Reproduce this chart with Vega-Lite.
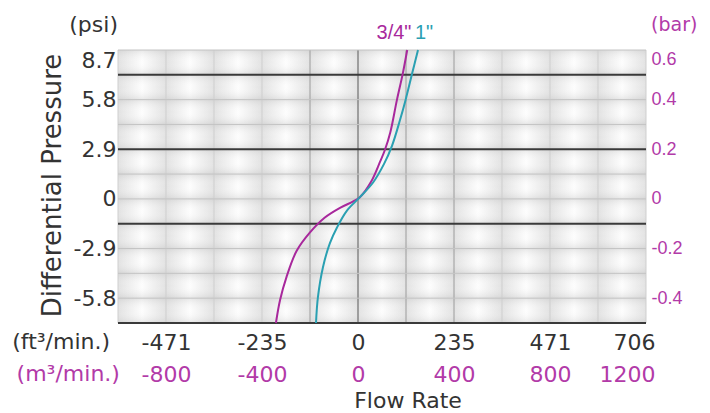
{
  "$schema": "https://vega.github.io/schema/vega-lite/v6.json",
  "autosize": "none",
  "width": 528,
  "height": 273,
  "padding": {"left": 118, "top": 50, "right": 64, "bottom": 90},
  "background": "white",
  "config": {"view": {"stroke": null}},
  "resolve": {"axis": {"x": "independent", "y": "independent"}},
  "layer": [
    {
      "data": {"values": [
        {"c0": -1000, "c1": -800}, {"c0": -800, "c1": -600}, {"c0": -600, "c1": -400},
        {"c0": -400, "c1": -200}, {"c0": -200, "c1": 0}, {"c0": 0, "c1": 200},
        {"c0": 200, "c1": 400}, {"c0": 400, "c1": 600}, {"c0": 600, "c1": 800},
        {"c0": 800, "c1": 1000}, {"c0": 1000, "c1": 1200}
      ]},
      "mark": {"type": "rect", "color": {"gradient": "linear", "x1": 0, "y1": 0, "x2": 1, "y2": 0,
        "stops": [{"offset": 0, "color": "#e2e2e2"}, {"offset": 0.5, "color": "#fdfdfd"}, {"offset": 1, "color": "#e2e2e2"}]}},
      "encoding": {
        "x": {"field": "c0", "type": "quantitative", "scale": {"domain": [-1000, 1200], "nice": false, "zero": false}, "axis": null},
        "x2": {"field": "c1"}
      }
    },
    {
      "data": {"values": [
        {"r0": -0.5, "r1": -0.4}, {"r0": -0.4, "r1": -0.3}, {"r0": -0.3, "r1": -0.2},
        {"r0": -0.2, "r1": -0.1}, {"r0": -0.1, "r1": 0}, {"r0": 0, "r1": 0.1},
        {"r0": 0.1, "r1": 0.2}, {"r0": 0.2, "r1": 0.3}, {"r0": 0.3, "r1": 0.4},
        {"r0": 0.4, "r1": 0.5}, {"r0": 0.5, "r1": 0.6}
      ]},
      "mark": {"type": "rect", "color": {"gradient": "linear", "x1": 0, "y1": 0, "x2": 0, "y2": 1,
        "stops": [{"offset": 0, "color": "rgba(185,185,185,0.32)"}, {"offset": 0.5, "color": "rgba(255,255,255,0)"}, {"offset": 1, "color": "rgba(185,185,185,0.32)"}]}},
      "encoding": {
        "y": {"field": "r0", "type": "quantitative", "scale": {"domain": [-0.5, 0.6], "nice": false, "zero": false}, "axis": null},
        "y2": {"field": "r1"}
      }
    },
    {
      "data": {"values": [{"x": -1000}, {"x": -800}, {"x": -600}, {"x": -400}, {"x": 600}, {"x": 800}, {"x": 1000}, {"x": 1200}]},
      "mark": {"type": "rule", "color": "#cfcfcf", "strokeWidth": 1},
      "encoding": {"x": {"field": "x", "type": "quantitative", "scale": {"domain": [-1000, 1200], "nice": false, "zero": false}, "axis": null}}
    },
    {
      "data": {"values": [{"x": -200}, {"x": 200}, {"x": 400}]},
      "mark": {"type": "rule", "color": "#9c9c9c", "strokeWidth": 1},
      "encoding": {"x": {"field": "x", "type": "quantitative", "scale": {"domain": [-1000, 1200], "nice": false, "zero": false}, "axis": null}}
    },
    {
      "data": {"values": [{"x": 0}]},
      "mark": {"type": "rule", "color": "#707070", "strokeWidth": 1.2},
      "encoding": {"x": {"field": "x", "type": "quantitative", "scale": {"domain": [-1000, 1200], "nice": false, "zero": false}, "axis": null}}
    },
    {
      "data": {"values": [{"y": -0.4}, {"y": -0.3}, {"y": -0.2}, {"y": 0}, {"y": 0.1}, {"y": 0.3}, {"y": 0.4}, {"y": 0.6}]},
      "mark": {"type": "rule", "color": "#c4c4c4", "strokeWidth": 1},
      "encoding": {"y": {"field": "y", "type": "quantitative", "scale": {"domain": [-0.5, 0.6], "nice": false, "zero": false}, "axis": null}}
    },
    {
      "data": {"values": [{"y": 0.5}, {"y": 0.2}, {"y": -0.1}, {"y": -0.5}]},
      "mark": {"type": "rule", "color": "#3a3a3a", "strokeWidth": 2},
      "encoding": {"y": {"field": "y", "type": "quantitative", "scale": {"domain": [-0.5, 0.6], "nice": false, "zero": false}, "axis": null}}
    },
    {
      "data": {"values": [
        {"series": "3/4\"", "flow": -342, "bar": -0.5},
        {"series": "3/4\"", "flow": -325, "bar": -0.408},
        {"series": "3/4\"", "flow": -298, "bar": -0.315},
        {"series": "3/4\"", "flow": -256, "bar": -0.21},
        {"series": "3/4\"", "flow": -200, "bar": -0.135},
        {"series": "3/4\"", "flow": -138, "bar": -0.075},
        {"series": "3/4\"", "flow": -75, "bar": -0.036},
        {"series": "3/4\"", "flow": -20, "bar": -0.01},
        {"series": "3/4\"", "flow": 8, "bar": 0.007},
        {"series": "3/4\"", "flow": 55, "bar": 0.07},
        {"series": "3/4\"", "flow": 92, "bar": 0.15},
        {"series": "3/4\"", "flow": 112, "bar": 0.197},
        {"series": "3/4\"", "flow": 135, "bar": 0.27},
        {"series": "3/4\"", "flow": 162, "bar": 0.398},
        {"series": "3/4\"", "flow": 187, "bar": 0.507},
        {"series": "3/4\"", "flow": 205, "bar": 0.6},
        {"series": "1\"", "flow": -175, "bar": -0.5},
        {"series": "1\"", "flow": -167, "bar": -0.396},
        {"series": "1\"", "flow": -146, "bar": -0.275},
        {"series": "1\"", "flow": -117, "bar": -0.178},
        {"series": "1\"", "flow": -88, "bar": -0.116},
        {"series": "1\"", "flow": -46, "bar": -0.047},
        {"series": "1\"", "flow": 8, "bar": 0.007},
        {"series": "1\"", "flow": 62, "bar": 0.065},
        {"series": "1\"", "flow": 108, "bar": 0.14},
        {"series": "1\"", "flow": 142, "bar": 0.215},
        {"series": "1\"", "flow": 175, "bar": 0.318},
        {"series": "1\"", "flow": 198, "bar": 0.398},
        {"series": "1\"", "flow": 226, "bar": 0.507},
        {"series": "1\"", "flow": 250, "bar": 0.6}
      ]},
      "mark": {"type": "line", "strokeWidth": 2, "interpolate": "catmull-rom"},
      "encoding": {
        "x": {"field": "flow", "type": "quantitative", "scale": {"domain": [-1000, 1200], "nice": false, "zero": false},
          "axis": {"orient": "bottom", "values": [-800, -400, 0, 400, 800, 1200],
            "labelExpr": "'' + round(datum.value * 0.58857)",
            "domain": false, "grid": false, "ticks": false, "tickSize": 0, "labelPadding": 9.5,
            "labelFlush": true, "labelFlushOffset": 9, "labelOverlap": false,
            "labelFont": "DejaVu Sans", "labelFontSize": 22, "labelColor": "#333333", "title": null}},
        "y": {"field": "bar", "type": "quantitative", "scale": {"domain": [-0.5, 0.6], "nice": false, "zero": false},
          "axis": {"orient": "left", "values": [-0.4, -0.2, 0, 0.2, 0.4, 0.6],
            "labelExpr": "datum.value == 0 ? '0' : '' + round(datum.value * 145) / 10",
            "domain": false, "grid": false, "ticks": false, "tickSize": 0, "labelPadding": 2,
            "labelFlush": true, "labelOverlap": false,
            "labelFont": "DejaVu Sans", "labelFontSize": 22, "labelColor": "#333333",
            "title": "Differential Pressure", "titleFont": "DejaVu Sans", "titleFontSize": 26,
            "titleFontWeight": "normal", "titleColor": "#333333", "titleAngle": 270,
            "titleX": -58, "titleY": 135, "titleAlign": "center", "titleBaseline": "alphabetic"}},
        "color": {"field": "series", "type": "nominal",
          "scale": {"domain": ["3/4\"", "1\""], "range": ["#a8289c", "#2aa0b2"]}, "legend": null},
        "order": {"field": "flow", "type": "quantitative"}
      }
    },
    {
      "data": {"values": [
        {"series": "3/4\"", "flow": 150, "bar": 0.669},
        {"series": "1\"", "flow": 275, "bar": 0.669}
      ]},
      "mark": {"type": "text", "font": "Liberation Sans", "fontSize": 20, "align": "center", "baseline": "middle"},
      "encoding": {
        "x": {"field": "flow", "type": "quantitative", "scale": {"domain": [-1000, 1200], "nice": false, "zero": false},
          "axis": {"orient": "bottom", "offset": 33, "values": [-800, -400, 0, 400, 800, 1200],
            "labelExpr": "'' + datum.value",
            "domain": false, "grid": false, "ticks": false, "tickSize": 0, "labelPadding": 8,
            "labelFlush": true, "labelFlushOffset": 9, "labelOverlap": false,
            "labelFont": "DejaVu Sans", "labelFontSize": 22, "labelColor": "#b23aa8",
            "title": "Flow Rate", "titleFont": "DejaVu Sans", "titleFontSize": 22, "titleFontWeight": "normal",
            "titleColor": "#333333", "titleX": 289.5, "titleY": 51, "titleAlign": "center", "titleBaseline": "alphabetic"}},
        "y": {"field": "bar", "type": "quantitative", "scale": {"domain": [-0.5, 0.6], "nice": false, "zero": false},
          "axis": {"orient": "right", "values": [-0.4, -0.2, 0, 0.2, 0.4, 0.6],
            "labelExpr": "'' + round(datum.value * 10) / 10",
            "domain": false, "grid": false, "ticks": false, "tickSize": 0, "labelPadding": 5,
            "labelFlush": true, "labelOverlap": false,
            "labelFont": "Liberation Sans", "labelFontSize": 18, "labelColor": "#b23aa8", "title": null}},
        "text": {"field": "series"},
        "color": {"field": "series", "type": "nominal",
          "scale": {"domain": ["3/4\"", "1\""], "range": ["#a8289c", "#2aa0b2"]}, "legend": null}
      }
    },
    {
      "data": {"values": [
        {"label": "(psi)", "flow": -1000, "bar": 0.7},
        {"label": "(ft³/min.)", "flow": -1033, "bar": -0.577}
      ]},
      "mark": {"type": "text", "font": "DejaVu Sans", "fontSize": 22, "align": "right", "baseline": "middle", "color": "#333333"},
      "encoding": {
        "x": {"field": "flow", "type": "quantitative", "scale": {"domain": [-1000, 1200], "nice": false, "zero": false}, "axis": null},
        "y": {"field": "bar", "type": "quantitative", "scale": {"domain": [-0.5, 0.6], "nice": false, "zero": false}, "axis": null},
        "text": {"field": "label"}
      }
    },
    {
      "data": {"values": [
        {"label": "(m³/min.)", "flow": -992, "bar": -0.704}
      ]},
      "mark": {"type": "text", "font": "DejaVu Sans", "fontSize": 22, "align": "right", "baseline": "middle", "color": "#b23aa8"},
      "encoding": {
        "x": {"field": "flow", "type": "quantitative", "scale": {"domain": [-1000, 1200], "nice": false, "zero": false}, "axis": null},
        "y": {"field": "bar", "type": "quantitative", "scale": {"domain": [-0.5, 0.6], "nice": false, "zero": false}, "axis": null},
        "text": {"field": "label"}
      }
    },
    {
      "data": {"values": [
        {"label": "(bar)", "flow": 1221, "bar": 0.7}
      ]},
      "mark": {"type": "text", "font": "DejaVu Sans", "fontSize": 19, "align": "left", "baseline": "middle", "color": "#b23aa8"},
      "encoding": {
        "x": {"field": "flow", "type": "quantitative", "scale": {"domain": [-1000, 1200], "nice": false, "zero": false}, "axis": null},
        "y": {"field": "bar", "type": "quantitative", "scale": {"domain": [-0.5, 0.6], "nice": false, "zero": false}, "axis": null},
        "text": {"field": "label"}
      }
    }
  ]
}
